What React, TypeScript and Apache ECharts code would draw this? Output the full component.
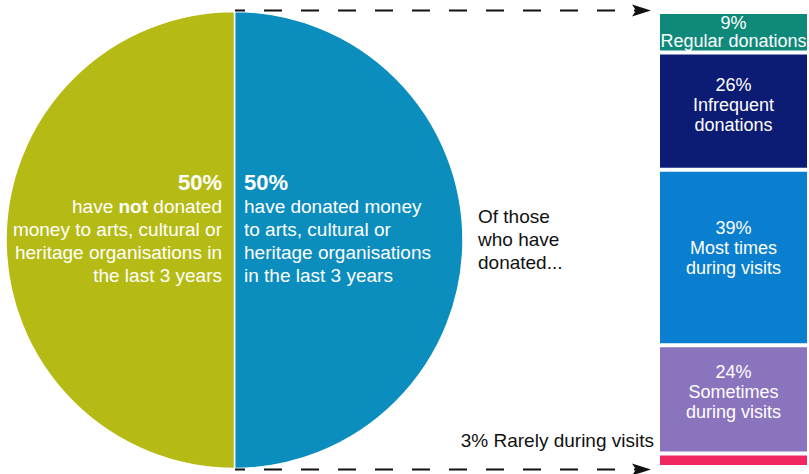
import React, { useEffect, useRef } from "react";
import * as echarts from "echarts";

const pieNames = ["have donated", "have not donated"];
const pieValues = [50, 50];
const pieColors = ["#0b8dbe", "#b5bb14"];

const barNames = [
  "Regular donations",
  "Infrequent\ndonations",
  "Most times\nduring visits",
  "Sometimes\nduring visits",
  "Rarely during visits",
];
const barValues = [9, 26, 39, 24, 3];
const barColors = ["#0f8a7a", "#0c1c74", "#0a7ecf", "#8a74bd", "#ef2660"];

const FONT = "'Liberation Sans', Arial, sans-serif";

export default function App() {
  const ref = useRef<HTMLDivElement>(null);
  useEffect(() => {
    if (!ref.current) return;
    const chart = echarts.init(ref.current, null, { renderer: "svg" });
    const total = barValues.reduce((a, b) => a + b, 0);
    const offsets = [0, -6, -10, -7, 0];
    const barSeries = barValues.map((v, i) => ({
      type: "bar",
      name: barNames[i],
      stack: "s",
      barWidth: "100%",
      data: [v],
      itemStyle: { color: barColors[i], borderColor: "#ffffff", borderWidth: 2 },
      label: {
        show: i < barValues.length - 1,
        position: "inside",
        offset: [0, offsets[i]],
        color: "#ffffff",
        fontFamily: FONT,
        fontSize: 18,
        lineHeight: i === 0 ? 18 : 20,
        overflow: "none",
        formatter: (p: any) => `${p.value}%\n${p.seriesName}`,
      },
      silent: true,
    }));

    const rich = {
      b: { fontFamily: FONT, fontSize: 22, fontWeight: "bold", fill: "#fff", lineHeight: 25 },
      n: { fontFamily: FONT, fontSize: 19, fill: "#fff", lineHeight: 23 },
      bb: { fontFamily: FONT, fontSize: 19, fontWeight: "bold", fill: "#fff", lineHeight: 23 },
    };

    chart.setOption({
      animation: false,
      grid: { left: 658, width: 156, top: 12, bottom: 7 },
      xAxis: { type: "category", data: ["donors"], show: false },
      yAxis: { type: "value", inverse: true, min: 0, max: total, show: false },
      series: [
        {
          type: "pie",
          center: [234.5, 240],
          radius: 228.5,
          startAngle: 90,
          clockwise: true,
          label: { show: false },
          labelLine: { show: false },
          silent: true,
          itemStyle: { borderColor: "#ffffff", borderWidth: 1.5 },
          data: pieValues.map((v, i) => ({
            value: v,
            name: pieNames[i],
            itemStyle: { color: pieColors[i] },
          })),
        },
        ...barSeries,
      ],
      graphic: [
        {
          type: "text",
          x: 222,
          y: 170,
          z: 100,
          style: {
            text:
              `{b|${pieValues[1]}%}\n{n|have }{bb|not}{n| donated}\n{n|money to arts, cultural or}\n{n|heritage organisations in}\n{n|the last 3 years}`,
            rich,
            fill: "#fff",
            align: "right",
            verticalAlign: "top",
          },
        },
        {
          type: "text",
          x: 244,
          y: 170,
          z: 100,
          style: {
            text:
              `{b|${pieValues[0]}%}\n{n|have donated money}\n{n|to arts, cultural or}\n{n|heritage organisations}\n{n|in the last 3 years}`,
            rich,
            fill: "#fff",
            align: "left",
            verticalAlign: "top",
          },
        },
        {
          type: "text",
          x: 478,
          y: 205,
          z: 100,
          style: {
            text: "Of those\nwho have\ndonated...",
            font: `19px ${FONT}`,
            lineHeight: 23,
            fill: "#111",
            align: "left",
            verticalAlign: "top",
          },
        },
        {
          type: "text",
          x: 654,
          y: 440,
          z: 100,
          style: {
            text: `${barValues[4]}% ${barNames[4]}`,
            font: `19px ${FONT}`,
            fill: "#111",
            align: "right",
            verticalAlign: "middle",
          },
        },
        {
          type: "line",
          z: 100,
          shape: { x1: 235, y1: 10.5, x2: 636, y2: 10.5 },
          style: { stroke: "#111", lineWidth: 2, lineDash: [18, 19], lineDashOffset: 8 },
        },
        {
          type: "polygon",
          z: 100,
          shape: { points: [[632, 4.5], [651, 10.5], [632, 16.5], [636, 10.5]] },
          style: { fill: "#111" },
        },
        {
          type: "line",
          z: 100,
          shape: { x1: 235, y1: 469.5, x2: 636, y2: 469.5 },
          style: { stroke: "#111", lineWidth: 2, lineDash: [18, 19], lineDashOffset: 8 },
        },
        {
          type: "polygon",
          z: 100,
          shape: { points: [[632, 463.5], [651, 469.5], [632, 475.5], [636, 469.5]] },
          style: { fill: "#111" },
        },
      ],
    });
    return () => chart.dispose();
  }, []);
  return (
    <div
      ref={ref}
      style={{ position: "absolute", left: 0, top: 0, width: 809, height: 474, background: "#fff" }}
    />
  );
}
